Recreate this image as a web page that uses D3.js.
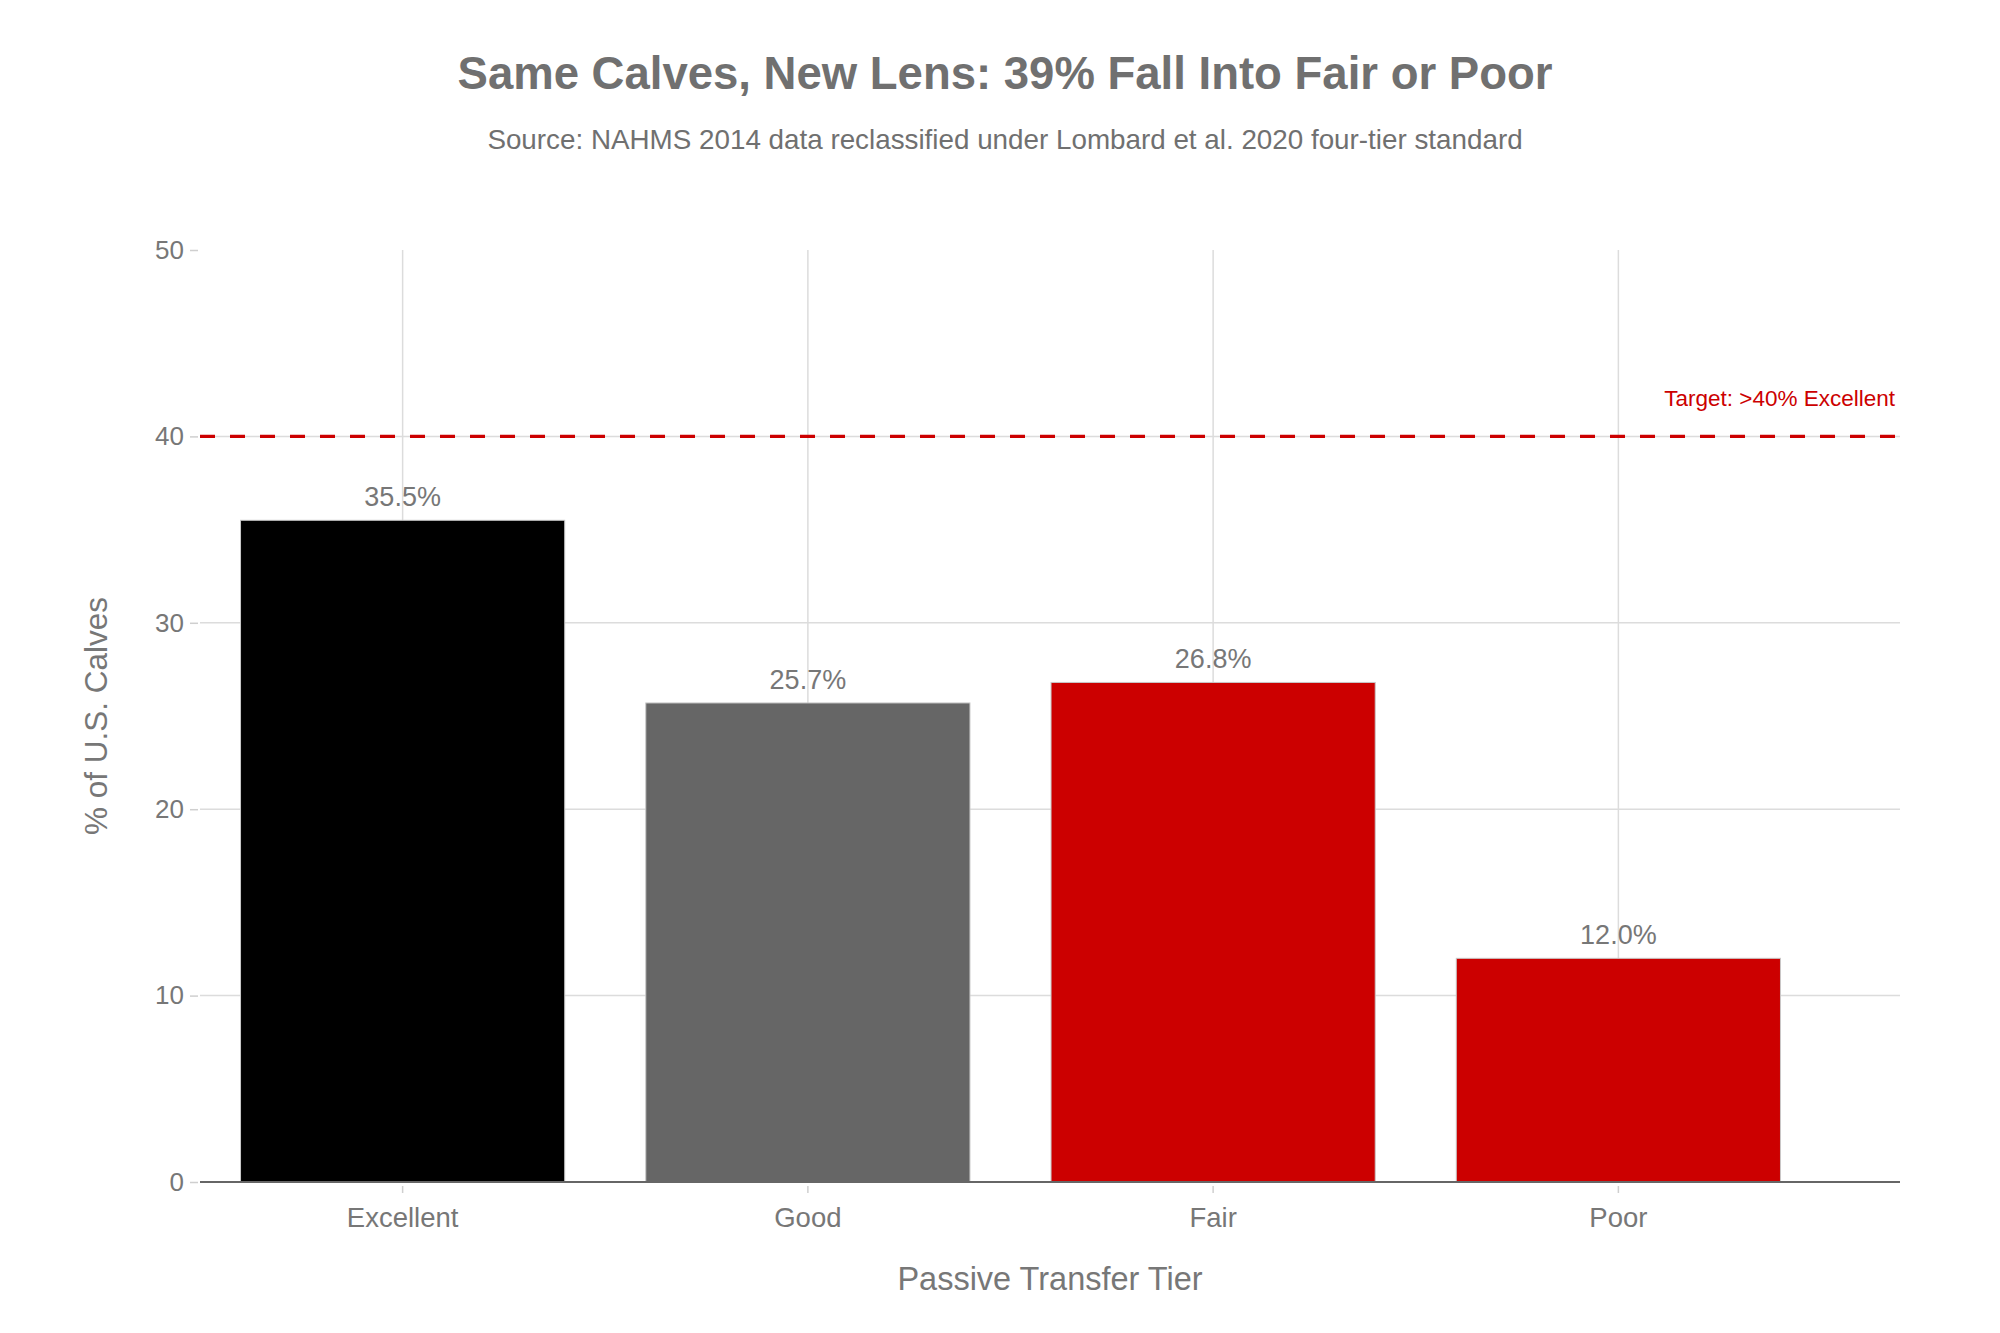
<!DOCTYPE html>
<html>
<head>
<meta charset="utf-8">
<script src="https://cdn.jsdelivr.net/npm/d3@7"></script>
<style>
  html, body { margin: 0; padding: 0; background: #fff; overflow: hidden; }
  svg { display: block; }
</style>
</head>
<body>
<div id="chart"></div>
<script>
// Chart data
const tiers = ["Excellent", "Good", "Fair", "Poor"];
const shares = [35.5, 25.7, 26.8, 12.0];
const barColors = ["#000000", "#666666", "#cc0000", "#cc0000"];
const yTicks = [0, 10, 20, 30, 40, 50];
const targetValue = 40;

const width = 2000, height = 1333;
const margin = { top: 250, right: 100, bottom: 151, left: 200 };
const innerWidth = width - margin.left - margin.right;
const innerHeight = height - margin.top - margin.bottom;
const fontFamily = "'Liberation Sans', Arial, sans-serif";

const svg = d3.select("#chart")
    .append("svg")
    .attr("width", width)
    .attr("height", height)
    .attr("font-family", fontFamily);

const inner = svg.append("g")
    .attr("transform", `translate(${margin.left},${margin.top})`);

// Scales (band range stops short of the right edge, like the original)
const xScale = d3.scaleBand()
    .domain(tiers)
    .range([0, 1621])
    .paddingInner(0.2)
    .paddingOuter(0.1);

const yScale = d3.scaleLinear()
    .domain([0, 50])
    .range([innerHeight, 0]);

const xMid = d => xScale(d) + xScale.bandwidth() / 2;

// Grid lines
inner.selectAll(".hgrid")
    .data(yTicks.filter(d => d > 0 && d < 50))
    .join("line")
    .attr("class", "hgrid")
    .attr("x1", 0)
    .attr("x2", innerWidth)
    .attr("y1", d => yScale(d))
    .attr("y2", d => yScale(d))
    .attr("stroke", "#dcdcdc")
    .attr("stroke-width", 1.5);

inner.selectAll(".vgrid")
    .data(tiers)
    .join("line")
    .attr("class", "vgrid")
    .attr("x1", xMid)
    .attr("x2", xMid)
    .attr("y1", 0)
    .attr("y2", innerHeight)
    .attr("stroke", "#dcdcdc")
    .attr("stroke-width", 1.5);

// Bars
inner.selectAll(".bar")
    .data(tiers)
    .join("rect")
    .attr("class", "bar")
    .attr("x", d => xScale(d))
    .attr("y", (d, i) => yScale(shares[i]))
    .attr("width", xScale.bandwidth())
    .attr("height", (d, i) => innerHeight - yScale(shares[i]))
    .attr("fill", (d, i) => barColors[i])
    .attr("stroke", "#c8c8c8")
    .attr("stroke-width", 1);

// Value labels
inner.selectAll(".val")
    .data(tiers)
    .join("text")
    .attr("class", "val")
    .attr("x", xMid)
    .attr("y", (d, i) => yScale(shares[i]) - 14)
    .attr("text-anchor", "middle")
    .attr("fill", "#777")
    .attr("font-size", 27)
    .text((d, i) => shares[i].toFixed(1) + "%");

// Target line
inner.append("line")
    .attr("x1", 0)
    .attr("x2", innerWidth)
    .attr("y1", yScale(targetValue))
    .attr("y2", yScale(targetValue))
    .attr("stroke", "#cc0000")
    .attr("stroke-width", 3.3)
    .attr("stroke-dasharray", "15,15");

inner.append("text")
    .attr("x", innerWidth - 5)
    .attr("y", yScale(targetValue) - 30)
    .attr("text-anchor", "end")
    .attr("fill", "#cc0000")
    .attr("font-size", 22.5)
    .text("Target: >40% Excellent");

// Y axis
const yAxis = inner.append("g")
    .call(d3.axisLeft(yScale).tickValues(yTicks).tickSize(8).tickPadding(8))
    .attr("font-family", fontFamily)
    .attr("font-size", 26);
yAxis.select(".domain").remove();
yAxis.selectAll(".tick line")
    .attr("transform", "translate(-2,0)")
    .attr("stroke", "#cfcfcf")
    .attr("stroke-width", 1.5);
yAxis.selectAll(".tick text")
    .attr("fill", "#777");

// X axis
const xAxis = inner.append("g")
    .attr("transform", `translate(0,${innerHeight})`)
    .call(d3.axisBottom(xScale).tickSize(0).tickPadding(25))
    .attr("font-family", fontFamily)
    .attr("font-size", 27.5);
xAxis.select(".domain").remove();
xAxis.selectAll(".tick text")
    .attr("fill", "#777");
xAxis.selectAll(".tick")
    .append("line")
    .attr("y1", 4)
    .attr("y2", 11)
    .attr("stroke", "#cfcfcf")
    .attr("stroke-width", 1.5);

// Zero line
inner.append("line")
    .attr("x1", 0)
    .attr("x2", innerWidth)
    .attr("y1", innerHeight)
    .attr("y2", innerHeight)
    .attr("stroke", "#666")
    .attr("stroke-width", 2);

// Axis titles
svg.append("text")
    .attr("x", margin.left + innerWidth / 2)
    .attr("y", 1290)
    .attr("text-anchor", "middle")
    .attr("fill", "#777")
    .attr("font-size", 32.5)
    .text("Passive Transfer Tier");

svg.append("text")
    .attr("transform", `translate(107,${margin.top + innerHeight / 2}) rotate(-90)`)
    .attr("text-anchor", "middle")
    .attr("fill", "#777")
    .attr("font-size", 31.5)
    .text("% of U.S. Calves");

// Title and subtitle
svg.append("text")
    .attr("x", 1005)
    .attr("y", 89)
    .attr("text-anchor", "middle")
    .attr("fill", "#707070")
    .attr("font-size", 45.5)
    .attr("font-weight", "bold")
    .text("Same Calves, New Lens: 39% Fall Into Fair or Poor");

svg.append("text")
    .attr("x", 1005)
    .attr("y", 149)
    .attr("text-anchor", "middle")
    .attr("fill", "#707070")
    .attr("font-size", 27.8)
    .text("Source: NAHMS 2014 data reclassified under Lombard et al. 2020 four-tier standard");
</script>
</body>
</html>
